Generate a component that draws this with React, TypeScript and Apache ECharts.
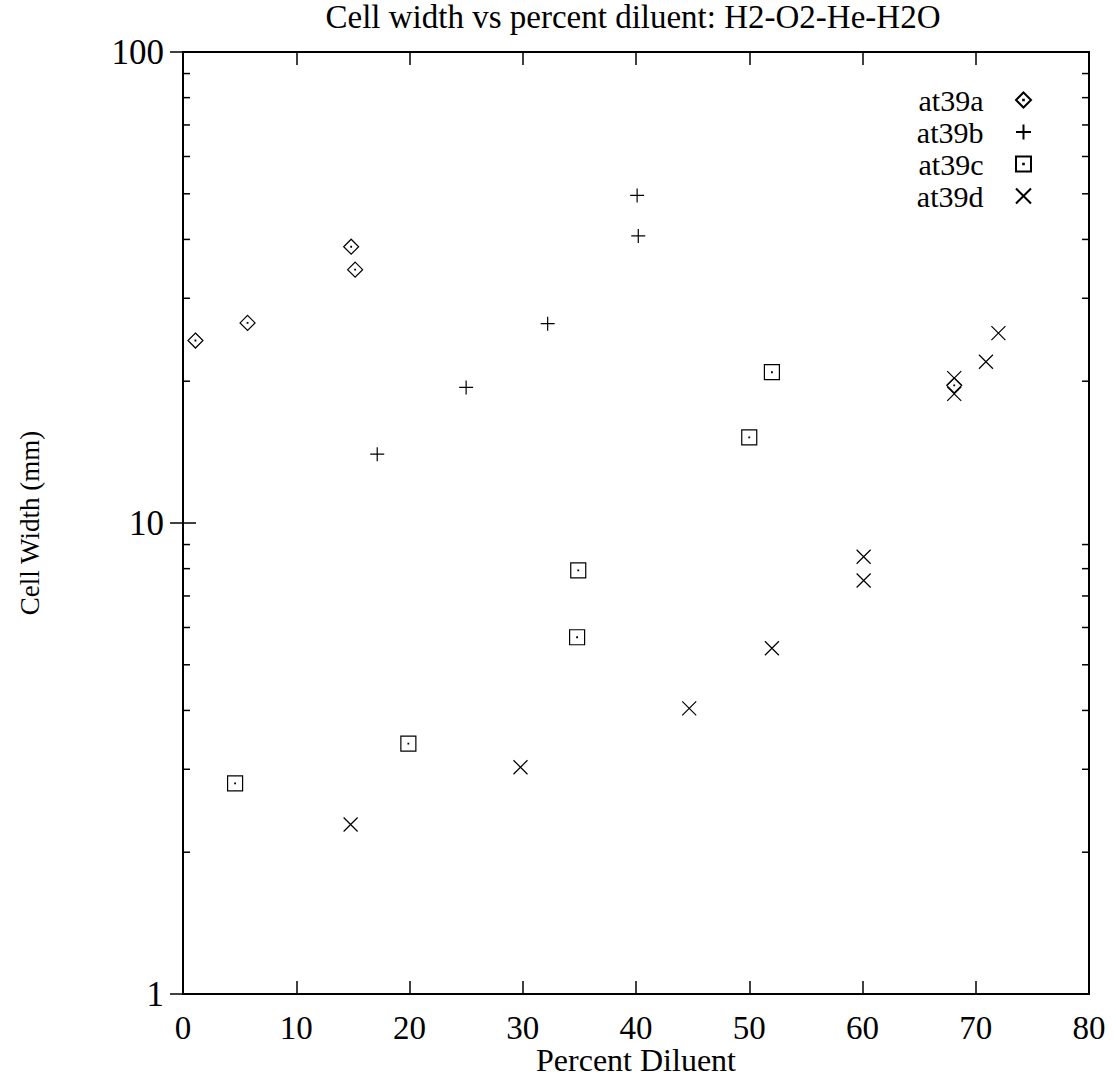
import React, { useEffect, useRef } from "react";
import * as echarts from "echarts";

const xTicks = [0, 10, 20, 30, 40, 50, 60, 70, 80];
const minorYTicks = [2, 3, 4, 5, 6, 7, 8, 9, 20, 30, 40, 50, 60, 70, 80, 90];

const at39a: [number, number][] = [
  [1.1, 24.4],
  [5.7, 26.6],
  [14.85, 38.6],
  [15.2, 34.5],
  [68.1, 19.6],
];
const at39b: [number, number][] = [
  [17.15, 14.0],
  [25.0, 19.4],
  [32.2, 26.5],
  [40.1, 49.6],
  [40.2, 40.7],
];
const at39c: [number, number][] = [
  [4.6, 2.8],
  [19.9, 3.4],
  [34.8, 5.72],
  [34.9, 7.93],
  [50.0, 15.2],
  [52.0, 20.9],
];
const at39d: [number, number][] = [
  [14.8, 2.29],
  [29.8, 3.03],
  [44.7, 4.04],
  [52.0, 5.42],
  [60.1, 8.48],
  [60.1, 7.55],
  [68.1, 20.3],
  [68.1, 18.8],
  [70.9, 22.0],
  [72.0, 25.3],
];

const FONT = "Liberation Serif";

export default function App() {
  const ref = useRef<HTMLDivElement>(null);
  useEffect(() => {
    document.body.style.margin = "0";
    const chart = echarts.init(ref.current!, null, { renderer: "svg" });
    const mk = (name: string, data: [number, number][], symbol: string, size: number) => ({
      type: "scatter",
      name,
      data,
      symbol,
      symbolSize: size,
      symbolKeepAspect: true,
      xAxisIndex: 0,
      yAxisIndex: 0,
      itemStyle: { color: "rgba(0,0,0,0)", borderColor: "#000", borderWidth: 1.2, opacity: 1 },
      emphasis: { disabled: true },
    });
    chart.setOption({
      animation: false,
      graphic: [
        {
          type: "text",
          x: 633,
          y: 17,
          style: {
            text: "Cell width vs percent diluent: H2-O2-He-H2O",
            textAlign: "center",
            textVerticalAlign: "middle",
            fontSize: 33,
            fontFamily: FONT,
            fill: "#000",
          },
        },
      ],
      grid: {
        left: 183,
        right: 26,
        top: 52,
        bottom: 84,
        show: true,
        borderColor: "#000",
        borderWidth: 2,
        backgroundColor: "transparent",
        containLabel: false,
        outerBoundsMode: "none",
      },
      legend: {
        data: ["at39a", "at39b", "at39c", "at39d"],
        orient: "vertical",
        align: "right",
        right: 78,
        top: 80,
        itemWidth: 70,
        itemHeight: 15,
        itemGap: 2,
        selectedMode: false,
        textStyle: { color: "#000", fontSize: 30, fontFamily: FONT },
      },
      xAxis: [
        {
          type: "value",
          min: 0,
          max: 80,
          interval: 10,
          position: "bottom",
          name: "Percent Diluent",
          nameLocation: "middle",
          nameGap: 50,
          nameMoveOverlap: false,
          nameTextStyle: { color: "#000", fontSize: 32, fontFamily: FONT },
          axisLine: { show: true, lineStyle: { color: "#000", width: 2 } },
          axisTick: { show: true, inside: true, length: 13, lineStyle: { color: "#000", width: 1.5 } },
          axisLabel: {
            color: "#000",
            fontSize: 33,
            fontFamily: FONT,
            margin: 17,
            formatter: (v: number) => (xTicks.includes(v) ? String(v) : ""),
          },
          splitLine: { show: false },
        },
        {
          type: "value",
          min: 0,
          max: 80,
          interval: 10,
          position: "top",
          axisLine: { show: true, lineStyle: { color: "#000", width: 2 } },
          axisTick: { show: true, inside: true, length: 13, lineStyle: { color: "#000", width: 1.5 } },
          axisLabel: { show: false },
          splitLine: { show: false },
        },
      ],
      yAxis: [
        {
          type: "log",
          logBase: 10,
          min: 1,
          max: 100,
          position: "left",
          name: "Cell Width (mm)",
          nameLocation: "middle",
          nameGap: 140,
          nameMoveOverlap: false,
          nameTextStyle: { color: "#000", fontSize: 27, fontFamily: FONT },
          axisLine: { show: true, lineStyle: { color: "#000", width: 2 } },
          axisTick: { show: true, inside: true, length: 13, lineStyle: { color: "#000", width: 1.5 } },
          axisLabel: { color: "#000", fontSize: 35, fontFamily: FONT, margin: 19 },
          splitLine: { show: false },
        },
        {
          type: "log",
          logBase: 10,
          min: 1,
          max: 100,
          position: "right",
          axisLine: { show: true, lineStyle: { color: "#000", width: 2 } },
          axisTick: { show: true, inside: true, length: 13, lineStyle: { color: "#000", width: 1.5 } },
          axisLabel: { show: false },
          splitLine: { show: false },
        },
      ],
      series: [
        {
          type: "custom",
          name: "minorTicks",
          xAxisIndex: 0,
          yAxisIndex: 0,
          silent: true,
          data: minorYTicks.map((v) => [0, v]),
          renderItem: (params: any, api: any) => {
            const pt = api.coord([0, api.value(1)]);
            const cs = params.coordSys;
            const l = cs.x;
            const r = cs.x + cs.width;
            const st = { stroke: "#000", lineWidth: 1.5 };
            return {
              type: "group",
              children: [
                { type: "line", shape: { x1: l, y1: pt[1], x2: l + 7, y2: pt[1] }, style: st },
                { type: "line", shape: { x1: r - 7, y1: pt[1], x2: r, y2: pt[1] }, style: st },
              ],
            };
          },
        },
        mk("at39a", at39a, "path://M7,0L14,7L7,14L0,7Z M6.7,6.7L7.3,6.7L7.3,7.3L6.7,7.3Z", 15),
        mk("at39b", at39b, "path://M0,7L14,7M7,0L7,14", 14),
        mk("at39c", at39c, "path://M0,0L14,0L14,14L0,14Z M6.7,6.7L7.3,6.7L7.3,7.3L6.7,7.3Z", 15),
        mk("at39d", at39d, "path://M0,0L14,14M14,0L0,14", 14),
      ],
    });
    return () => chart.dispose();
  }, []);
  return <div ref={ref} style={{ width: 1115, height: 1078 }} />;
}
